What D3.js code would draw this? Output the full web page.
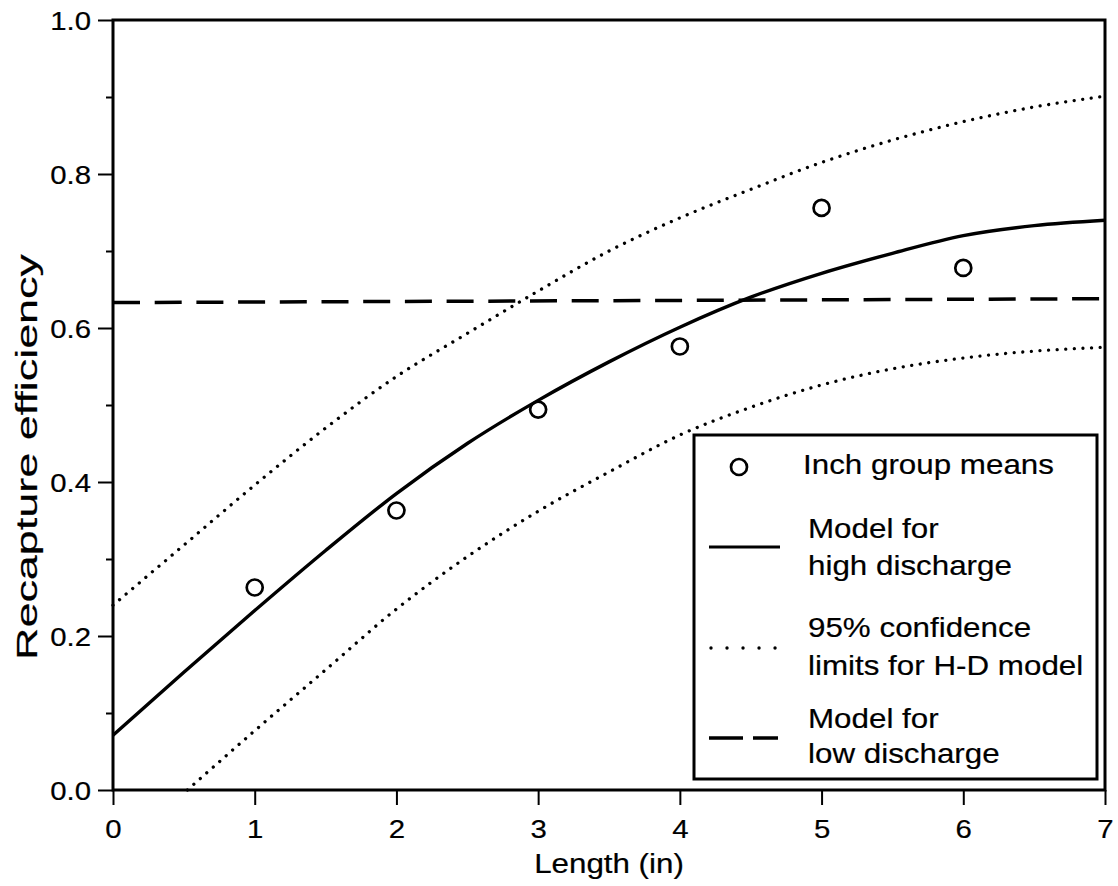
<!DOCTYPE html>
<html>
<head>
<meta charset="utf-8">
<script src="https://cdn.jsdelivr.net/npm/d3@7"></script>
<style>
  body { margin: 0; background: #fff; }
  text { font-family: "Liberation Sans", Arial, Helvetica, sans-serif; fill: #000; stroke: #000; stroke-width: 0.2px; }
</style>
</head>
<body>
<svg id="chart" width="1118" height="886"></svg>
<script>
// inch group means (circles)
let groupLength = [1, 2, 3, 4, 5, 6];
let groupMeans = [0.263, 0.363, 0.494, 0.576, 0.756, 0.678];

// model curves, every half inch
let curveLength = [0, 0.5, 1, 1.5, 2, 2.5, 3, 3.5, 4, 4.5, 5, 5.5, 6, 6.5, 7];
let highModel = [0.071, 0.153, 0.233, 0.311, 0.385, 0.45, 0.506, 0.556, 0.601, 0.64, 0.671, 0.697, 0.72, 0.733, 0.74];
let upperLimit = [0.24, 0.318, 0.396, 0.47, 0.537, 0.593, 0.648, 0.7, 0.743, 0.78, 0.815, 0.844, 0.868, 0.887, 0.901];
// lower limit only starts where it leaves zero
let lowerLength = [0.525, 1, 1.5, 2, 2.5, 3, 3.5, 4, 4.5, 5, 5.5, 6, 6.5, 7];
let lowerLimit = [0, 0.077, 0.156, 0.235, 0.303, 0.362, 0.413, 0.461, 0.497, 0.526, 0.547, 0.561, 0.57, 0.575];

// low discharge model is flat
let lowLength = [0, 7];
let lowModel = [0.633, 0.638];

let xTicks = [0, 1, 2, 3, 4, 5, 6, 7];
let yTicks = [0, 0.2, 0.4, 0.6, 0.8, 1.0];
let yMinorTicks = [0.1, 0.3, 0.5, 0.7, 0.9];

let legendLabels = [
  ["Inch group means"],
  ["Model for", "high discharge"],
  ["95% confidence", "limits for H-D model"],
  ["Model for", "low discharge"]
];

let svg = d3.select("#chart");
let stretch = 1.13; // scanned type is a bit wider than Helvetica

let x = d3.scaleLinear().domain([0, 7]).range([113, 1105]);
let y = d3.scaleLinear().domain([0, 1]).range([790, 20]);

// ticks
let xAxis = svg.append("g")
  .attr("transform", "translate(0,790)")
  .call(d3.axisBottom(x).tickValues(xTicks).tickSize(15).tickFormat(d3.format("d")));
xAxis.select(".domain").remove();
xAxis.selectAll(".tick line").attr("stroke", "#000").attr("stroke-width", 2);
xAxis.selectAll(".tick text")
  .attr("y", null).attr("dy", null)
  .attr("transform", "translate(0,48) scale(" + stretch + ",1)")
  .style("font-size", "26px")
  .attr("fill", "#000");

let yAxis = svg.append("g")
  .attr("transform", "translate(113,0)")
  .call(d3.axisLeft(y).tickValues(yTicks).tickSize(15).tickFormat(d3.format(".1f")));
yAxis.select(".domain").remove();
yAxis.selectAll(".tick line").attr("stroke", "#000").attr("stroke-width", 2);
yAxis.selectAll(".tick text")
  .attr("x", null).attr("dy", null)
  .attr("transform", "translate(-22,9) scale(" + stretch + ",1)")
  .style("font-size", "26px")
  .attr("fill", "#000");

let yMinor = svg.append("g")
  .attr("transform", "translate(113,0)")
  .call(d3.axisLeft(y).tickValues(yMinorTicks).tickSize(7).tickFormat(""));
yMinor.select(".domain").remove();
yMinor.selectAll(".tick line").attr("stroke", "#000").attr("stroke-width", 2);

// plot frame
svg.append("rect")
  .attr("x", x(0)).attr("y", y(1))
  .attr("width", x(7) - x(0)).attr("height", y(0) - y(1))
  .attr("fill", "none").attr("stroke", "#000").attr("stroke-width", 3);

// axis titles
svg.append("text")
  .attr("transform", "translate(" + x(3.5) + ",873) scale(1.16,1)")
  .attr("text-anchor", "middle")
  .style("font-size", "27px")
  .text("Length (in)");

svg.append("text")
  .attr("transform", "translate(37,457) rotate(-90)")
  .attr("text-anchor", "middle")
  .attr("textLength", 406)
  .attr("lengthAdjust", "spacingAndGlyphs")
  .style("font-size", "29px")
  .text("Recapture efficiency");

// lines
let line = d3.line()
  .x((d) => x(d[0]))
  .y((d) => y(d[1]))
  .curve(d3.curveMonotoneX);

svg.append("path")
  .datum(d3.zip(lowLength, lowModel))
  .attr("d", line)
  .attr("fill", "none").attr("stroke", "#000")
  .attr("stroke-width", 3.5)
  .attr("stroke-dasharray", "27 14.7");

svg.append("path")
  .datum(d3.zip(curveLength, upperLimit))
  .attr("d", line)
  .attr("fill", "none").attr("stroke", "#000")
  .attr("stroke-width", 3.3).attr("stroke-linecap", "round")
  .attr("stroke-dasharray", "0.01 8.6");

svg.append("path")
  .datum(d3.zip(lowerLength, lowerLimit))
  .attr("d", line)
  .attr("fill", "none").attr("stroke", "#000")
  .attr("stroke-width", 3.3).attr("stroke-linecap", "round")
  .attr("stroke-dasharray", "0.01 8.6");

svg.append("path")
  .datum(d3.zip(curveLength, highModel))
  .attr("d", line)
  .attr("fill", "none").attr("stroke", "#000")
  .attr("stroke-width", 3.4);

// group means
svg.selectAll("circle.mean")
  .data(d3.zip(groupLength, groupMeans))
  .enter()
  .append("circle")
  .attr("class", "mean")
  .attr("cx", (d) => x(d[0]))
  .attr("cy", (d) => y(d[1]))
  .attr("r", 8)
  .attr("fill", "none").attr("stroke", "#000").attr("stroke-width", 2.7);

// legend
let legend = svg.append("g").attr("transform", "translate(694,435)");
legend.append("rect")
  .attr("width", 403).attr("height", 344)
  .attr("fill", "#fff").attr("stroke", "#000").attr("stroke-width", 3);

legend.append("circle")
  .attr("cx", 45).attr("cy", 32).attr("r", 8)
  .attr("fill", "none").attr("stroke", "#000").attr("stroke-width", 2.7);

legend.append("line")
  .attr("x1", 15).attr("x2", 86).attr("y1", 112).attr("y2", 112)
  .attr("stroke", "#000").attr("stroke-width", 3.2);

legend.append("line")
  .attr("x1", 17).attr("x2", 86).attr("y1", 213).attr("y2", 213)
  .attr("stroke", "#000").attr("stroke-width", 3.4).attr("stroke-linecap", "round")
  .attr("stroke-dasharray", "0.01 16");

legend.append("line")
  .attr("x1", 15).attr("x2", 84).attr("y1", 303).attr("y2", 303)
  .attr("stroke", "#000").attr("stroke-width", 3.5)
  .attr("stroke-dasharray", "34 10");

let labelBase = [[39], [103, 140], [202, 240], [293, 328]];
legendLabels.forEach((lines, i) => {
  lines.forEach((txt, j) => {
    legend.append("text")
      .attr("transform", "translate(" + (i === 0 ? 109 : 114) + "," + labelBase[i][j] + ") scale(1.12,1)")
      .style("font-size", "28px")
      .text(txt);
  });
});
</script>
</body>
</html>
